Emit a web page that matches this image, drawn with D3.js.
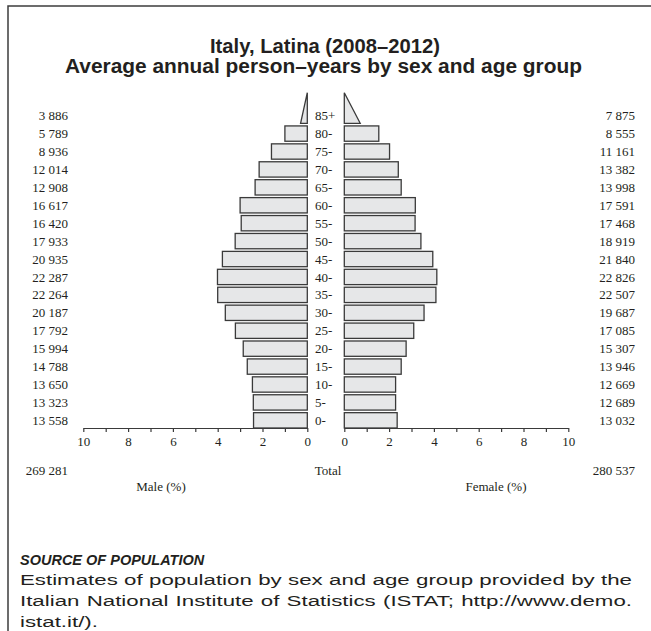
<!DOCTYPE html>
<html lang="en">
  <head>
    <meta charset="UTF-8" />
    <title>Italy, Latina (2008–2012)</title>
    <script src="https://d3js.org/d3.v7.min.js"></script>
    <style>
      * {
        margin: 0;
        padding: 0;
        box-sizing: border-box;
      }

      body {
        background: #ffffff;
        width: 651px;
        height: 631px;
        overflow: hidden;
      }

      .title {
        font-family: "Liberation Sans", Arial, sans-serif;
        font-weight: 700;
        font-size: 19.5px;
        fill: #231f20;
      }

      .lbl {
        font-family: "Liberation Serif", "Times New Roman", serif;
        font-size: 13px;
        fill: #231f20;
      }

      .bar {
        fill: #e6e7e8;
        stroke: #3a3a3a;
        stroke-width: 1.3;
      }

      .axis path,
      .axis line {
        stroke: #3a3a3a;
        stroke-width: 1.2;
      }

      .axis text {
        font-family: "Liberation Serif", "Times New Roman", serif;
        font-size: 13px;
        fill: #231f20;
      }

      .src-head {
        font-family: "Liberation Sans", Arial, sans-serif;
        font-weight: 700;
        font-style: italic;
        font-size: 14.5px;
        fill: #231f20;
      }

      .src {
        font-family: "Liberation Sans", Arial, sans-serif;
        font-size: 15.5px;
        fill: #231f20;
      }
    </style>
  </head>

  <body>
    <div id="chart"></div>

    <script>
      const ages = ["85+", "80-", "75-", "70-", "65-", "60-", "55-", "50-", "45-",
        "40-", "35-", "30-", "25-", "20-", "15-", "10-", "5-", "0-"];

      // person-years (labels at the sides)
      const maleCounts = [3886, 5789, 8936, 12014, 12908, 16617, 16420, 17933, 20935,
        22287, 22264, 20187, 17792, 15994, 14788, 13650, 13323, 13558];
      const femaleCounts = [7875, 8555, 11161, 13382, 13998, 17591, 17468, 18919, 21840,
        22826, 22507, 19687, 17085, 15307, 13946, 12669, 12689, 13032];

      // bar lengths in % (85+ is the triangle base)
      const malePct = [0.30, 1.00, 1.60, 2.15, 2.33, 3.00, 2.95, 3.22, 3.79,
        4.01, 4.00, 3.66, 3.21, 2.86, 2.68, 2.45, 2.41, 2.40];
      const femalePct = [0.71, 1.54, 2.02, 2.41, 2.54, 3.17, 3.16, 3.42, 3.95,
        4.13, 4.09, 3.56, 3.10, 2.76, 2.54, 2.29, 2.29, 2.36];

      const totals = { male: 269281, female: 280537 };
      const xTicks = [0, 1, 2, 3, 4, 5, 6, 7, 8, 9, 10];

      const sourceLines = [
        "Estimates of population by sex and age group provided by the",
        "Italian National Institute of Statistics (ISTAT; http://www.demo.",
        "istat.it/).",
      ];

      const W = 651,
        H = 631;

      const fmt = d3.formatLocale({ decimal: ".", thousands: " ", grouping: [3] }).format(",d");

      const svg = d3
        .select("#chart")
        .append("svg")
        .attr("width", W)
        .attr("height", H);

      // frame (top and left edges)
      svg
        .append("path")
        .attr("d", `M8,${H} L8,6 L${W},6`)
        .attr("fill", "none")
        .attr("stroke", "#3c3c3c")
        .attr("stroke-width", 1.5);

      // title (the original type is set a little wide)
      svg.append("text").attr("class", "title").attr("x", 210).attr("y", 53)
        .attr("textLength", 230).attr("lengthAdjust", "spacingAndGlyphs")
        .text("Italy, Latina (2008–2012)");
      svg.append("text").attr("class", "title").attr("x", 65).attr("y", 73)
        .attr("textLength", 517).attr("lengthAdjust", "spacingAndGlyphs")
        .text("Average annual person–years by sex and age group");

      // scales
      const y = d3.scaleBand().domain(ages).range([108, 428]).paddingInner(0.145).paddingOuter(0);
      const xM = d3.scaleLinear().domain([0, 10]).range([307.3, 83.3]);
      const xF = d3.scaleLinear().domain([0, 10]).range([344.3, 568.3]);
      const bw = y.bandwidth();

      const rows = ages.map((a, i) => ({
        age: a,
        mc: maleCounts[i],
        fc: femaleCounts[i],
        mp: malePct[i],
        fp: femalePct[i],
        open: a.endsWith("+"),
      }));

      const closed = rows.filter((d) => !d.open);
      const open = rows.filter((d) => d.open);

      // male bars
      svg.selectAll(".bar-m").data(closed).enter().append("rect")
        .attr("class", "bar bar-m")
        .attr("x", (d) => xM(d.mp))
        .attr("y", (d) => y(d.age))
        .attr("width", (d) => xM(0) - xM(d.mp))
        .attr("height", bw);

      // female bars
      svg.selectAll(".bar-f").data(closed).enter().append("rect")
        .attr("class", "bar bar-f")
        .attr("x", xF(0))
        .attr("y", (d) => y(d.age))
        .attr("width", (d) => xF(d.fp) - xF(0))
        .attr("height", bw);

      // open-ended age group drawn as triangles
      open.forEach((d) => {
        const base = y(d.age) + bw;
        const apex = base - 2 * bw;
        svg.append("path").attr("class", "bar")
          .attr("d", `M${xM(0)},${apex} L${xM(d.mp)},${base} L${xM(0)},${base} Z`);
        svg.append("path").attr("class", "bar")
          .attr("d", `M${xF(0)},${apex} L${xF(d.fp)},${base} L${xF(0)},${base} Z`);
      });

      // side labels
      svg.selectAll(".lbl-m").data(rows).enter().append("text")
        .attr("class", "lbl")
        .attr("x", 68)
        .attr("y", (d) => y(d.age) + bw / 2)
        .attr("dy", "0.35em")
        .attr("text-anchor", "end")
        .text((d) => fmt(d.mc));

      svg.selectAll(".lbl-f").data(rows).enter().append("text")
        .attr("class", "lbl")
        .attr("x", 635)
        .attr("y", (d) => y(d.age) + bw / 2)
        .attr("dy", "0.35em")
        .attr("text-anchor", "end")
        .text((d) => fmt(d.fc));

      svg.selectAll(".lbl-a").data(rows).enter().append("text")
        .attr("class", "lbl")
        .attr("x", 315)
        .attr("y", (d) => y(d.age) + bw / 2)
        .attr("dy", "0.35em")
        .text((d) => d.age);

      // axes
      const axisM = d3.axisBottom(xM).tickValues(xTicks).tickSize(4).tickSizeOuter(0)
        .tickFormat((d) => (d % 2 === 0 ? d : ""));
      const axisF = d3.axisBottom(xF).tickValues(xTicks).tickSize(4).tickSizeOuter(0)
        .tickFormat((d) => (d % 2 === 0 ? d : ""));

      svg.append("g").attr("class", "axis").attr("transform", "translate(0,428)").call(axisM)
        .selectAll("text").attr("dy", "0.71em").attr("y", 9);
      svg.append("g").attr("class", "axis").attr("transform", "translate(0,428)").call(axisF)
        .selectAll("text").attr("dy", "0.71em").attr("y", 9);

      // totals
      svg.append("text").attr("class", "lbl").attr("x", 68).attr("y", 475)
        .attr("text-anchor", "end").text(fmt(totals.male));
      svg.append("text").attr("class", "lbl").attr("x", 328).attr("y", 475)
        .attr("text-anchor", "middle").text("Total");
      svg.append("text").attr("class", "lbl").attr("x", 635).attr("y", 475)
        .attr("text-anchor", "end").text(fmt(totals.female));
      svg.append("text").attr("class", "lbl").attr("x", 161).attr("y", 491)
        .attr("text-anchor", "middle").text("Male (%)");
      svg.append("text").attr("class", "lbl").attr("x", 496).attr("y", 491)
        .attr("text-anchor", "middle").text("Female (%)");

      // source note
      svg.append("text").attr("class", "src-head").attr("x", 20).attr("y", 565)
        .text("SOURCE OF POPULATION");

      const left = 20,
        right = 632;
      const note = svg.append("g");
      const lineEls = sourceLines.map((line, i) =>
        note.append("text").attr("class", "src").attr("y", 585 + i * 21).text(line)
      );
      // widen the type so the second line fills the column, then justify
      const sx = (right - left - 6) / lineEls[1].node().getComputedTextLength();
      note.attr("transform", `scale(${sx},1)`);
      lineEls.forEach((t, i) => {
        t.attr("x", left / sx);
        if (i < sourceLines.length - 1) {
          const natural = t.node().getComputedTextLength();
          const gaps = sourceLines[i].split(" ").length - 1;
          t.attr("word-spacing", ((right - left) / sx - natural) / gaps);
        }
      });
    </script>
  </body>
</html>
